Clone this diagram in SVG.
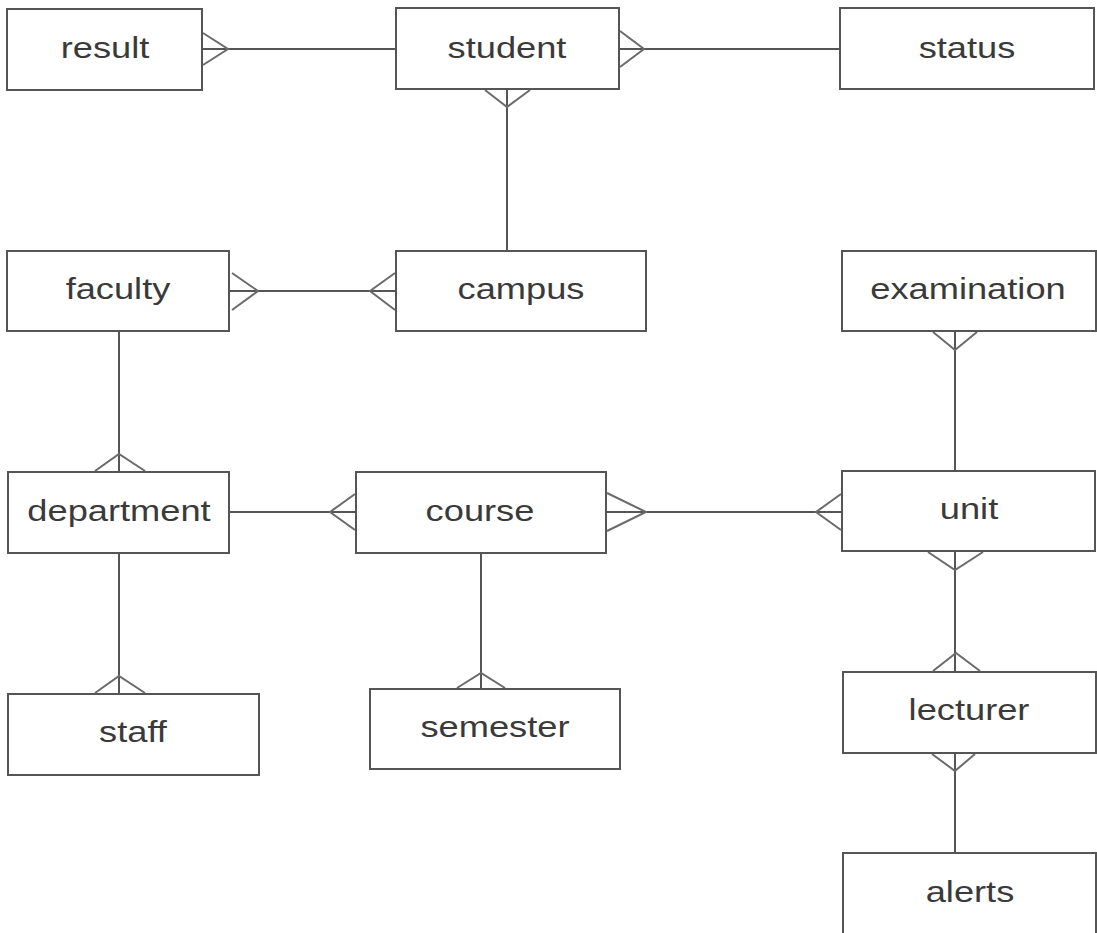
<svg xmlns="http://www.w3.org/2000/svg" width="1097" height="933" viewBox="0 0 1097 933">
  <style>
    .box { fill: #ffffff; stroke: #555555; stroke-width: 2; }
    .lbl { font-family: "Liberation Sans", Arial, sans-serif; font-size: 29px; fill: #3a3a3a; text-anchor: middle; }
    .rel { fill: none; stroke: #555555; stroke-width: 2; }
    .crow { fill: none; stroke: #6a6a6a; stroke-width: 2; }
  </style>
  <rect width="1097" height="933" fill="#ffffff"/>

  <!-- relationships -->
  <g id="connectors">
    <!-- result >— student -->
    <line class="rel" x1="202" y1="49" x2="396" y2="49"/>
    <polyline class="crow" points="203,33 228,49 203,65"/>
    <!-- student >— status -->
    <line class="rel" x1="619" y1="49" x2="840" y2="49"/>
    <polyline class="crow" points="620,31 644,49 620,67"/>
    <!-- student — campus -->
    <line class="rel" x1="507" y1="89" x2="507" y2="251"/>
    <polyline class="crow" points="485,90 507,107 530,90"/>
    <!-- faculty >—< campus -->
    <line class="rel" x1="229" y1="291" x2="396" y2="291"/>
    <polyline class="crow" points="232,273 258,291 232,310"/>
    <polyline class="crow" points="395,273 370,291 395,310"/>
    <!-- faculty — department -->
    <line class="rel" x1="119" y1="331" x2="119" y2="472"/>
    <polyline class="crow" points="95,471 119,454 145,471"/>
    <!-- department —< course -->
    <line class="rel" x1="229" y1="512" x2="356" y2="512"/>
    <polyline class="crow" points="355,494 330,512 355,530"/>
    <!-- course >—< unit -->
    <line class="rel" x1="606" y1="512" x2="842" y2="512"/>
    <polyline class="crow" points="607,493 646,512 607,531"/>
    <polyline class="crow" points="841,494 816,512 841,530"/>
    <!-- examination — unit -->
    <line class="rel" x1="955" y1="331" x2="955" y2="471"/>
    <polyline class="crow" points="933,332 955,350 977,332"/>
    <!-- department — staff -->
    <line class="rel" x1="119" y1="553" x2="119" y2="694"/>
    <polyline class="crow" points="95,693 119,676 145,693"/>
    <!-- course — semester -->
    <line class="rel" x1="481" y1="553" x2="481" y2="689"/>
    <polyline class="crow" points="457,688 481,673 505,688"/>
    <!-- unit — lecturer -->
    <line class="rel" x1="955" y1="551" x2="955" y2="672"/>
    <polyline class="crow" points="928,552 955,570 983,552"/>
    <polyline class="crow" points="933,671 956,653 980,671"/>
    <!-- lecturer — alerts -->
    <line class="rel" x1="955" y1="753" x2="955" y2="853"/>
    <polyline class="crow" points="932,754 955,771 975,754"/>
  </g>

  <g id="result">
    <rect class="box" x="7" y="9" width="195" height="81"/>
    <text class="lbl" transform="translate(105,58) scale(1.25,1)">result</text>
  </g>
  <g id="student">
    <rect class="box" x="396" y="8" width="223" height="81"/>
    <text class="lbl" transform="translate(507,58) scale(1.25,1)">student</text>
  </g>
  <g id="status">
    <rect class="box" x="840" y="8" width="254" height="81"/>
    <text class="lbl" transform="translate(967,58) scale(1.25,1)">status</text>
  </g>
  <g id="faculty">
    <rect class="box" x="7" y="251" width="222" height="80"/>
    <text class="lbl" transform="translate(118,299) scale(1.25,1)">faculty</text>
  </g>
  <g id="campus">
    <rect class="box" x="396" y="251" width="250" height="80"/>
    <text class="lbl" transform="translate(521,299) scale(1.25,1)">campus</text>
  </g>
  <g id="examination">
    <rect class="box" x="842" y="251" width="254" height="80"/>
    <text class="lbl" transform="translate(968,299) scale(1.25,1)">examination</text>
  </g>
  <g id="department">
    <rect class="box" x="8" y="472" width="221" height="81"/>
    <text class="lbl" transform="translate(119,521) scale(1.25,1)">department</text>
  </g>
  <g id="course">
    <rect class="box" x="356" y="472" width="250" height="81"/>
    <text class="lbl" transform="translate(480,521) scale(1.25,1)">course</text>
  </g>
  <g id="unit">
    <rect class="box" x="842" y="471" width="253" height="80"/>
    <text class="lbl" transform="translate(969,519) scale(1.25,1)">unit</text>
  </g>
  <g id="staff">
    <rect class="box" x="8" y="694" width="251" height="81"/>
    <text class="lbl" transform="translate(133,742) scale(1.25,1)">staff</text>
  </g>
  <g id="semester">
    <rect class="box" x="370" y="689" width="250" height="80"/>
    <text class="lbl" transform="translate(495,737) scale(1.25,1)">semester</text>
  </g>
  <g id="lecturer">
    <rect class="box" x="843" y="672" width="253" height="81"/>
    <text class="lbl" transform="translate(969,720) scale(1.25,1)">lecturer</text>
  </g>
  <g id="alerts">
    <rect class="box" x="843" y="853" width="253" height="90"/>
    <text class="lbl" transform="translate(970,902) scale(1.25,1)">alerts</text>
  </g>
</svg>
